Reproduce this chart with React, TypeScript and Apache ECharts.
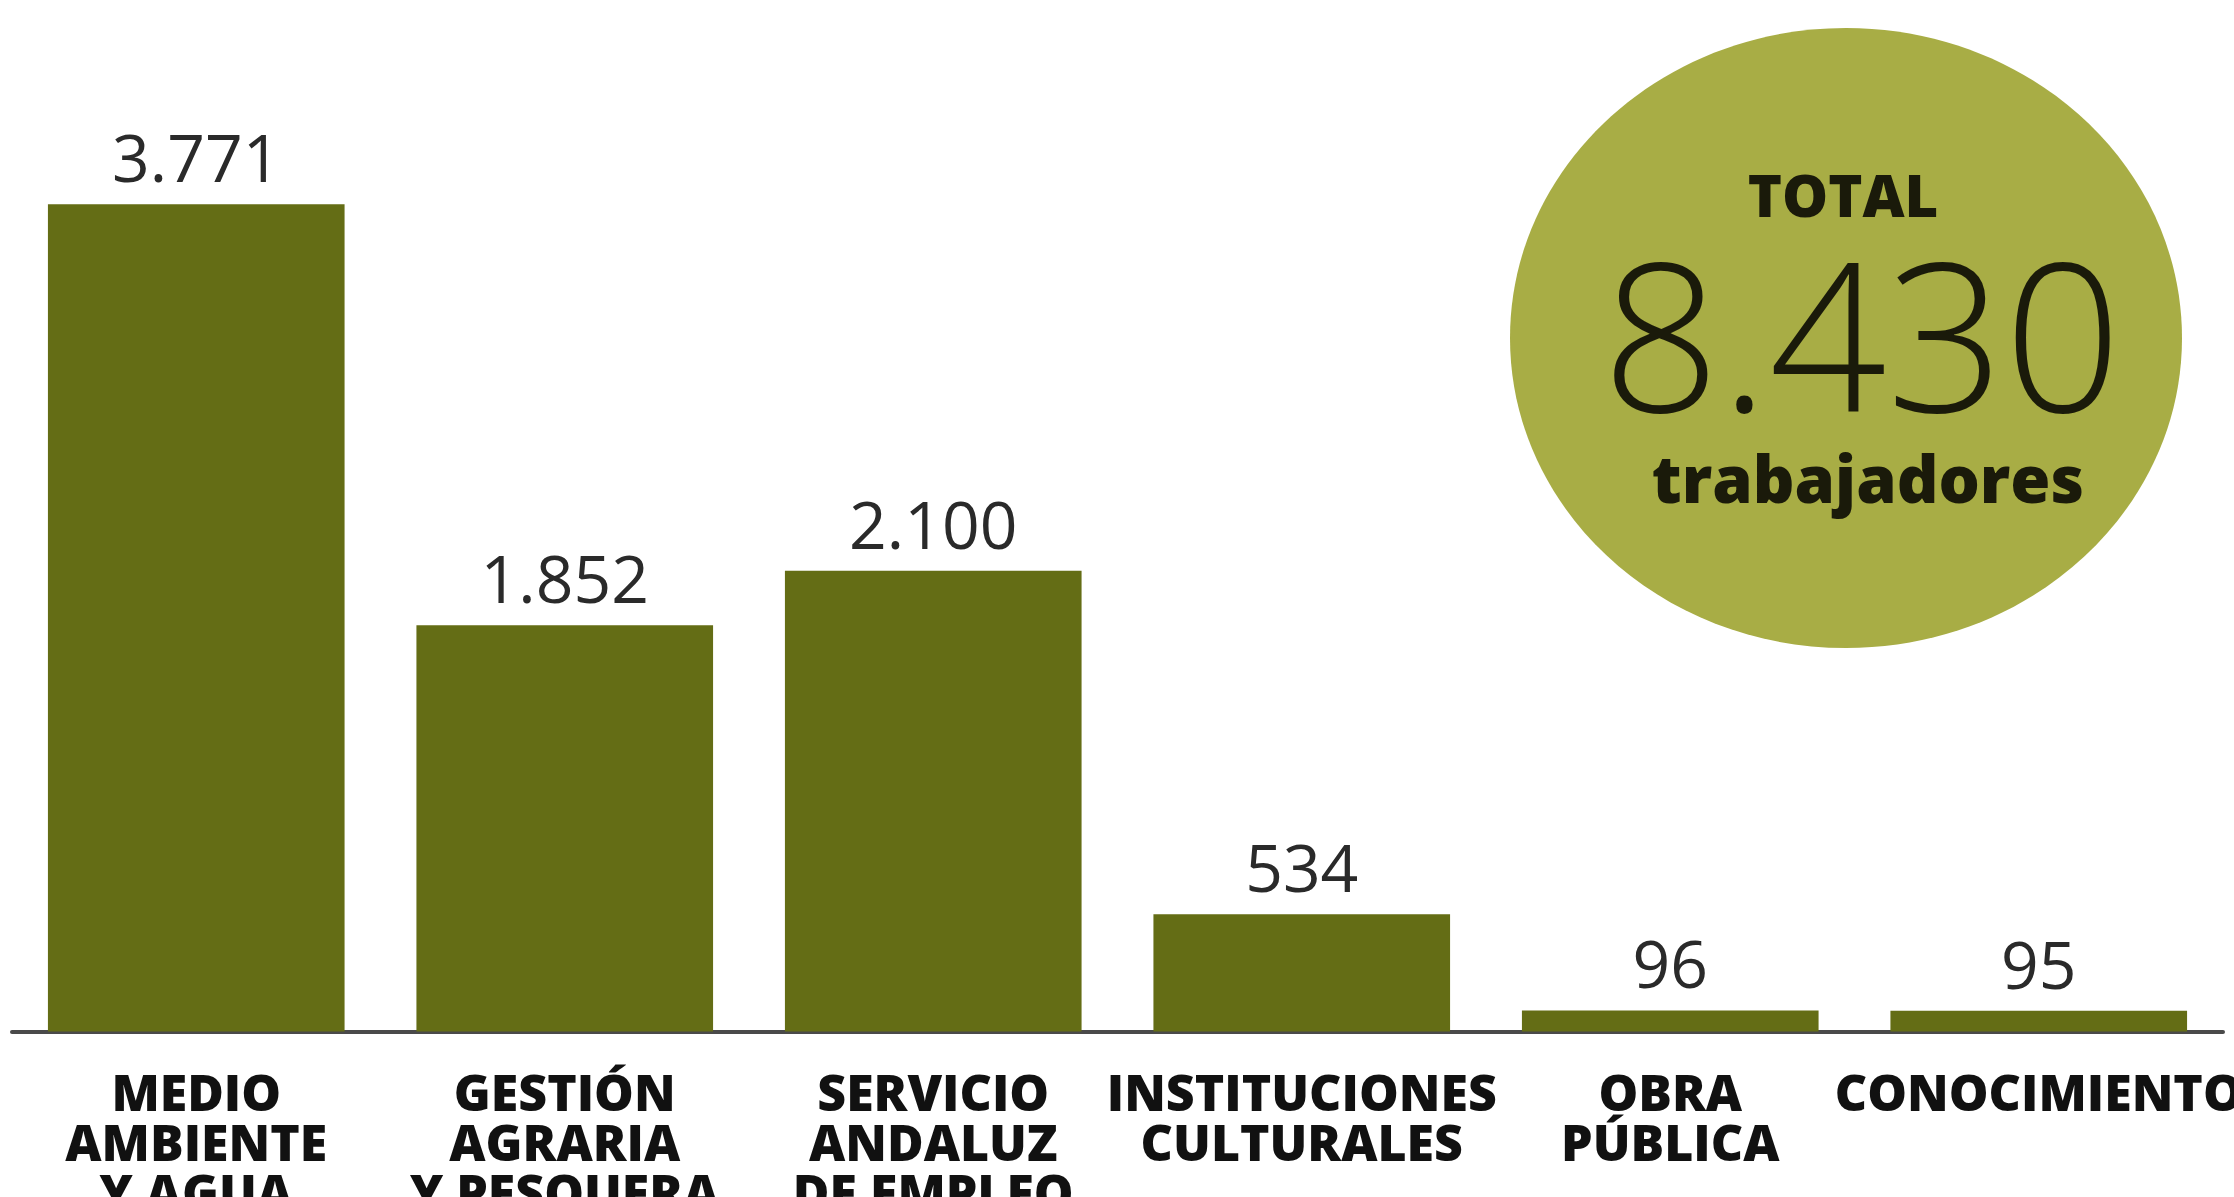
import React, { useEffect, useRef } from "react";
import * as echarts from "echarts";

const categories = [
  "MEDIO\nAMBIENTE\nY AGUA",
  "GESTIÓN\nAGRARIA\nY PESQUERA",
  "SERVICIO\nANDALUZ\nDE EMPLEO",
  "INSTITUCIONES\nCULTURALES",
  "OBRA\nPÚBLICA",
  "CONOCIMIENTO",
];
const values = [3771, 1852, 2100, 534, 96, 95];
const totalTitle = "TOTAL";
const totalValue = "8.430";
const totalUnit = "trabajadores";

const BAR = "#646d15";
const BUBBLE = "#a8ad45";

function fmt(v: number): string {
  return String(v).replace(/\B(?=(\d{3})+(?!\d))/g, ".");
}

export default function App() {
  const ref = useRef<HTMLDivElement>(null);
  useEffect(() => {
    document.body.style.margin = "0";
    const chart = echarts.init(ref.current!, undefined, { renderer: "svg" });
    chart.setOption({
      animation: false,
      backgroundColor: "#ffffff",
      grid: {
        left: 12,
        right: 11,
        top: 154,
        bottom: 165.5,
        containLabel: false,
        outerBoundsMode: "none",
      },
      xAxis: {
        type: "category",
        data: categories,
        axisTick: { show: false },
        axisLine: { show: true, lineStyle: { color: "#4a4a4a", width: 4 } },
        axisLabel: {
          interval: 0,
          margin: 35,
          color: "#111111",
          fontFamily: "Open Sans",
          fontWeight: 800,
          fontSize: 50,
          lineHeight: 50,
          align: "center",
          hideOverlap: false,
        },
      },
      yAxis: {
        type: "value",
        min: 0,
        max: 4000,
        show: false,
        splitLine: { show: false },
      },
      series: [
        {
          type: "bar",
          data: values,
          barCategoryGap: "19.5%",
          itemStyle: { color: BAR },
          label: {
            show: true,
            position: "top",
            distance: 15,
            color: "#2a2a2a",
            fontFamily: "Open Sans",
            fontWeight: 400,
            fontSize: 66,
            formatter: (p: any) => fmt(p.value),
          },
        },
      ],
      graphic: [
        {
          type: "ellipse",
          shape: { cx: 1846, cy: 338, rx: 336, ry: 310 },
          style: { fill: BUBBLE },
          z: 10,
        },
        {
          type: "text",
          z: 11,
          style: {
            text: totalTitle,
            x: 1843,
            y: 194,
            textAlign: "center",
            textVerticalAlign: "middle",
            align: "center",
            verticalAlign: "middle",
            fill: "#1a1a0a",
            fontFamily: "Open Sans",
            fontWeight: 800,
            fontSize: 58,
          },
        },
        {
          type: "text",
          z: 11,
          style: {
            text: totalValue,
            x: 1862,
            y: 332,
            textAlign: "center",
            textVerticalAlign: "middle",
            align: "center",
            verticalAlign: "middle",
            fill: "#1a1a0a",
            fontFamily: "Open Sans",
            fontWeight: 300,
            fontSize: 206,
          },
        },
        {
          type: "text",
          z: 11,
          style: {
            text: totalUnit,
            x: 1868,
            y: 478,
            textAlign: "center",
            textVerticalAlign: "middle",
            align: "center",
            verticalAlign: "middle",
            fill: "#1a1a0a",
            fontFamily: "Open Sans",
            fontWeight: 800,
            fontSize: 65,
          },
        },
      ],
    });
    return () => chart.dispose();
  }, []);
  return (
    <div
      ref={ref}
      style={{ position: "fixed", left: 0, top: 0, width: 2234, height: 1197 }}
    />
  );
}
